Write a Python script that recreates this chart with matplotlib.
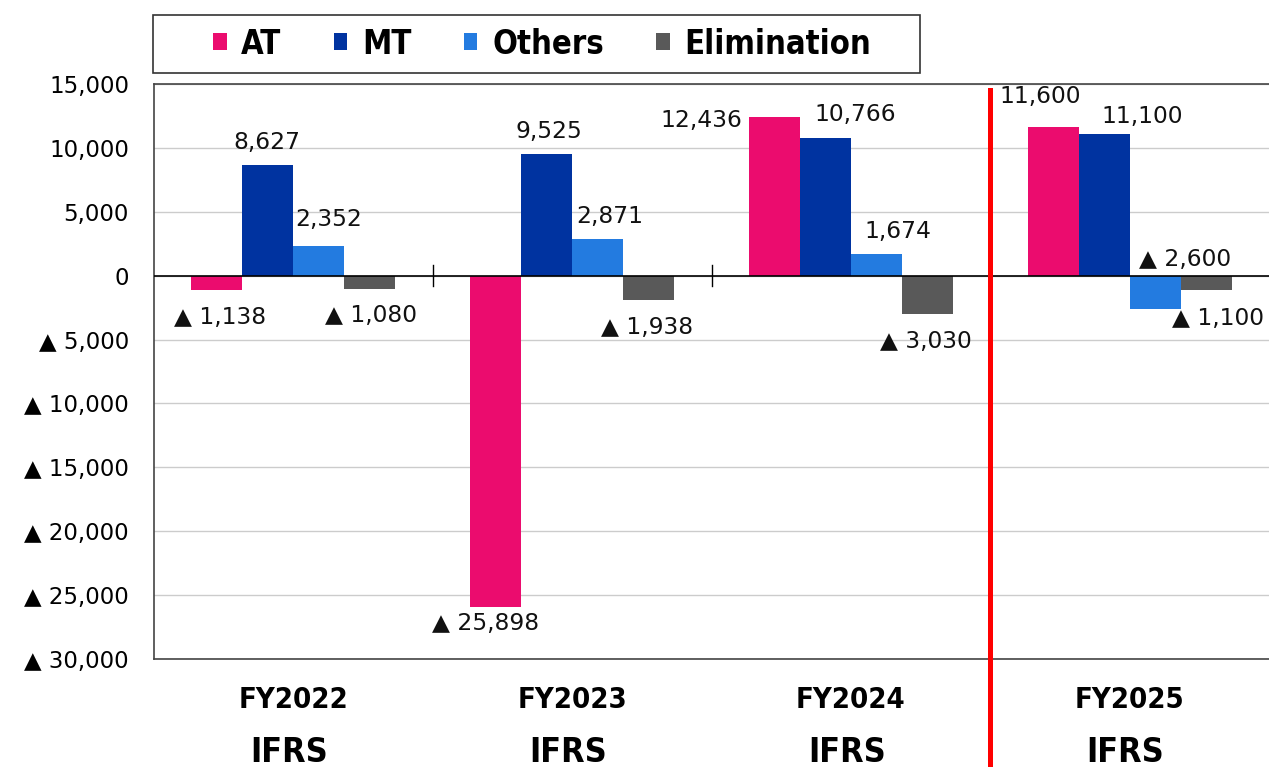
import numpy as np
import matplotlib
matplotlib.use("Agg")
import matplotlib.pyplot as plt
from matplotlib.patches import Rectangle
from matplotlib.ticker import FuncFormatter

# data
years = ["FY2022", "FY2023", "FY2024", "FY2025"]
basis = ["IFRS", "IFRS", "IFRS", "IFRS"]
series = ["AT", "MT", "Others", "Elimination"]
at_vals = [-1138, -25898, 12436, 11600]
mt_vals = [8627, 9525, 10766, 11100]
others_vals = [2352, 2871, 1674, -2600]
elim_vals = [-1080, -1938, -3030, -1100]

colors = ["#EB0C6E", "#0033A0", "#237BE0", "#595959"]

# label offsets in pixels from bar end (dx, dy), one row per year
label_off = [
    [(3, -27), (-1, 23), (10, 26), (1, -26)],
    [(-10, -17), (2, 22), (12, 22), (-2, -27)],
    [(-73, -4), (30, 24), (22, 23), (-2, -27)],
    [(-13, 31), (38, 17), (30, 49), (12, -29)],
]


def fmt(v):
    if v < 0:
        return "\u25b2 {:,}".format(int(-v))
    return "{:,}".format(int(v))


plt.rcParams['font.family'] = ['DejaVu Sans']

fig = plt.figure(figsize=(12.69, 7.67), dpi=100)
ax = fig.add_axes([154 / 1269, 108 / 767, 1115 / 1269, 575 / 767])

x = np.arange(len(years))
w = 0.183
all_vals = [at_vals, mt_vals, others_vals, elim_vals]
for i, (name, vals) in enumerate(zip(series, all_vals)):
    pos = x + (i - 1.5) * w
    ax.bar(pos, vals, w, color=colors[i], label=name, zorder=3)
    for j, v in enumerate(vals):
        dx, dy = label_off[j][i]
        ax.annotate(fmt(v), (pos[j], v), xytext=(dx, dy),
                    textcoords="offset pixels", ha="center", va="center",
                    fontsize=16.8, color="#111111", zorder=4)

ax.set_xlim(-0.5, 3.5)
ax.set_ylim(-30000, 15000)
ax.set_yticks(np.arange(-30000, 15001, 5000))
ax.yaxis.set_major_formatter(FuncFormatter(lambda v, p: fmt(v)))
ax.tick_params(axis="y", length=0, pad=18, labelsize=16.5)
ax.set_xticks([])
ax.grid(axis="y", color="#cccccc", linewidth=1, zorder=0)
ax.axhline(0, color="black", linewidth=1.2, zorder=3)

# small separator ticks on zero line
for b in [0.5, 1.5]:
    ax.plot([b, b], [-800, 800], color="black", linewidth=1, zorder=3)

for s in ["left", "top", "bottom"]:
    ax.spines[s].set_color("#444444")
    ax.spines[s].set_linewidth(1.2)
ax.spines["right"].set_visible(False)

# red divider between actuals and forecast
ax.plot([2.5, 2.5], [-0.19, 0.99], color="#FF0000", linewidth=3.6,
        transform=ax.get_xaxis_transform(), clip_on=False, zorder=5)

# category labels
for j in range(len(years)):
    ax.text(x[j], -0.071, years[j], transform=ax.get_xaxis_transform(),
            ha="center", va="center", fontsize=21, fontweight="bold",
            fontstretch="condensed")
    ax.text(x[j] - 0.015, -0.162, basis[j], transform=ax.get_xaxis_transform(),
            ha="center", va="center", fontsize=24.5, fontweight="bold",
            fontstretch="condensed")

# legend box drawn separately so its size matches
fig.patches.append(Rectangle((153 / 1269, 1 - 73 / 767), 767 / 1269, 58 / 767,
                             transform=fig.transFigure, fill=False,
                             edgecolor="#333333", linewidth=1.2))
leg = fig.legend(loc="center", bbox_to_anchor=(542 / 1269, 1 - 44 / 767),
                 ncol=4, frameon=False,
                 handlelength=0.42, handleheight=0.42, handletextpad=0.45,
                 columnspacing=1.6,
                 prop={"weight": "bold", "size": 23.5, "stretch": "condensed"})

fig.savefig("out.png", dpi=100)
